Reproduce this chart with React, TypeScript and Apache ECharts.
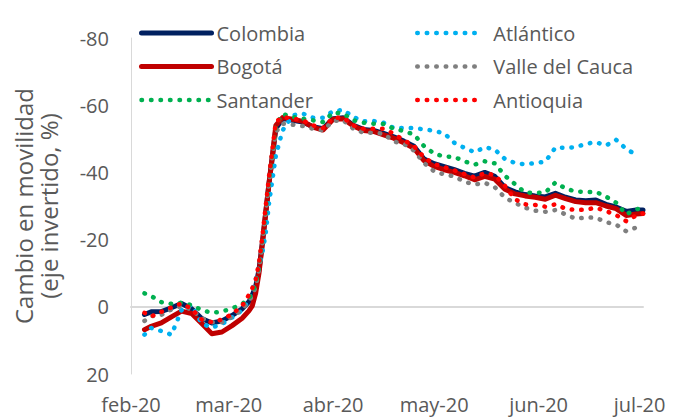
import React, { useEffect, useRef } from "react";
import * as echarts from "echarts";

// day offsets counted from 15-Feb-2020
const days = [4, 6, 9, 12, 15, 18, 21, 24, 27, 30, 33, 35, 36, 37, 38, 39, 40, 41, 42, 43, 45, 48, 51, 54, 57, 60, 63, 66, 69, 72, 75, 78, 81, 84, 87, 90, 93, 96, 99, 102, 105, 108, 111, 114, 117, 120, 123, 126, 129, 132, 135, 138, 141, 144, 147, 150, 152];

const colombia = [2.3, 1.5, 1.4, 0.3, -1.0, 0.6, 3.5, 4.8, 4.2, 2.6, 0.6, -1.5, -3.5, -6, -11, -19, -28, -37, -45, -53, -56.0, -55.5, -55.0, -53.6, -53.0, -56.0, -56.3, -54.0, -52.8, -52.5, -51.6, -50.6, -49.3, -47.8, -44.0, -42.6, -41.7, -40.8, -39.7, -38.9, -40.0, -38.8, -35.5, -34.2, -33.4, -33.0, -32.7, -33.8, -32.6, -31.8, -31.6, -31.8, -30.5, -29.7, -28.4, -28.8, -28.8];
const bogota = [6.8, 5.8, 4.8, 3.0, 1.3, 2.0, 5.0, 8.0, 7.5, 5.6, 3.4, 1.2, -0.3, -4, -10, -19, -28, -37, -45, -54, -56.3, -55.8, -55.2, -53.5, -52.6, -55.8, -56.0, -53.8, -52.5, -52.2, -51.2, -50.2, -48.8, -47.2, -43.5, -41.8, -40.8, -40.0, -39.0, -37.8, -38.8, -38.0, -35.0, -33.6, -33.0, -32.6, -32.0, -33.2, -32.2, -31.3, -31.0, -31.0, -30.0, -29.2, -27.2, -27.6, -27.8];
const santander = [-4.0, -3.2, -1.4, -0.9, -1.2, -0.5, 1.0, 1.8, 1.4, 0.5, -0.8, -2.6, -4.0, -7, -12, -20, -29, -38, -46, -54, -57.4, -56.5, -56.0, -55.5, -55.0, -57.8, -57.5, -55.5, -54.8, -54.5, -54.4, -53.0, -52.3, -51.3, -47.8, -45.6, -44.7, -44.6, -43.3, -42.3, -43.3, -42.7, -39.0, -36.5, -34.0, -33.9, -34.0, -37.0, -35.2, -34.3, -34.2, -34.2, -32.8, -31.0, -27.5, -29.0, -29.5];
const atlantico = [8.3, 6.3, 7.2, 8.3, 1.0, -0.6, 5.0, 6.2, 5.1, 3.2, 1.0, -2.0, -5.0, -8, -12, -16, -22, -31, -38, -45, -52.5, -57.0, -57.5, -56.3, -56.3, -58.2, -58.6, -56.5, -55.2, -55.3, -54.8, -53.2, -53.2, -53.2, -52.8, -52.4, -51.6, -48.8, -47.3, -46.0, -47.5, -46.8, -44.0, -42.8, -42.4, -42.8, -43.2, -47.4, -47.3, -47.5, -48.5, -49.0, -48.0, -49.7, -47.0, -45.2, null];
const valle = [4.2, 2.8, 2.4, 0.8, -0.3, 0.8, 3.4, 4.6, 4.6, 3.0, 0.8, -1.8, -3.2, -6, -11, -19, -28, -37, -45, -52, -54.5, -54.2, -53.8, -53.0, -52.5, -55.3, -55.5, -53.0, -51.8, -51.8, -51.5, -49.2, -48.5, -46.5, -42.8, -40.3, -39.4, -38.8, -37.2, -36.4, -36.9, -35.6, -32.5, -30.9, -29.5, -28.6, -28.3, -28.8, -27.5, -26.2, -26.6, -26.5, -25.2, -24.5, -22.5, -23.6, -24.3];
const antioquia = [1.8, 2.9, 1.5, 0.2, -1.0, 0.6, 3.8, 4.6, 3.8, 2.2, -0.3, -3.5, -5.5, -8, -13, -21, -30, -39, -47, -55, -56.5, -56.0, -55.5, -54.0, -53.2, -56.2, -56.3, -54.0, -53.0, -53.0, -53.0, -51.5, -49.6, -47.8, -44.5, -42.5, -41.6, -40.6, -39.5, -38.5, -39.8, -39.2, -36.0, -32.0, -30.5, -30.3, -29.8, -30.5, -29.2, -28.8, -28.9, -29.5, -28.5, -27.3, -25.5, -27.2, -27.7];

// x-axis labels (one per month, at the 15th)
const monthDays = [0, 29, 60, 90, 121, 151];
const monthLabels = ["feb-20", "mar-20", "abr-20", "may-20", "jun-20", "jul-20"];

const FONT = "Open Sans";
const TEXT = "#595959";
const SOLID_W = 5;
const DOT_W = 4.5;
const DOT_DASH = [0.5, 9];

const pairs = (vals: (number | null)[]) => days.map((d, i) => [d, vals[i]]);

const solid = (name: string, color: string, vals: (number | null)[]) => ({
  name,
  type: "line",
  data: pairs(vals),
  symbol: "none",
  showSymbol: false,
  lineStyle: { color, width: SOLID_W, cap: "round", join: "round" },
  itemStyle: { color },
});

const dotted = (name: string, color: string, vals: (number | null)[]) => ({
  name,
  type: "line",
  data: pairs(vals),
  symbol: "none",
  showSymbol: false,
  lineStyle: { color, width: DOT_W, type: DOT_DASH, cap: "round", join: "round" },
  itemStyle: { color },
});

const solidItem = (name: string) => ({ name, lineStyle: { width: SOLID_W, cap: "round" } });
const dotItem = (name: string) => ({ name, lineStyle: { width: DOT_W, type: DOT_DASH, cap: "round" } });

export default function App() {
  const ref = useRef<HTMLDivElement>(null);
  useEffect(() => {
    if (!ref.current) return;
    const chart = echarts.init(ref.current, null, { renderer: "svg" });
    chart.setOption({
      animation: false,
      backgroundColor: "#ffffff",
      textStyle: { fontFamily: FONT },
      grid: { left: 131, top: 38, width: 512, height: 336, containLabel: false, outerBoundsMode: "none" },
      legend: [
        {
          data: [solidItem("Colombia"), solidItem("Bogotá"), dotItem("Santander")],
          orient: "vertical",
          left: 139,
          top: 23,
          padding: 0,
          itemWidth: 70,
          itemHeight: 20,
          itemGap: 13.5,
          itemStyle: { opacity: 0 },
          textStyle: { fontFamily: FONT, fontSize: 20, color: TEXT },
        },
        {
          data: [dotItem("Atlántico"), dotItem("Valle del Cauca"), dotItem("Antioquia")],
          orient: "vertical",
          left: 415,
          top: 23,
          padding: 0,
          itemWidth: 62,
          itemHeight: 20,
          itemGap: 13.5,
          itemStyle: { opacity: 0 },
          textStyle: { fontFamily: FONT, fontSize: 20, color: TEXT, padding: [0, 0, 0, 9] },
        },
      ],
      xAxis: [
        {
          type: "value",
          min: 0,
          max: 152,
          position: "bottom",
          axisLine: { show: false, onZero: false },
          axisTick: { show: false },
          splitLine: { show: false },
          axisLabel: {
            customValues: monthDays,
            formatter: (v: number) => monthLabels[monthDays.indexOf(Math.round(v))] ?? "",
            fontFamily: FONT,
            fontSize: 20,
            color: TEXT,
            margin: 20,
          },
        },
        {
          type: "value",
          min: 0,
          max: 152,
          position: "top",
          axisLine: { show: true, onZero: true, lineStyle: { color: "#d9d9d9", width: 2 } },
          axisTick: { show: false },
          axisLabel: { show: false },
          splitLine: { show: false },
        },
      ],
      yAxis: {
        type: "value",
        inverse: true,
        min: -80,
        max: 20,
        interval: 20,
        axisLine: { show: true, lineStyle: { color: "#d9d9d9", width: 1 } },
        axisTick: { show: false },
        splitLine: { show: false },
        axisLabel: { fontFamily: FONT, fontSize: 20, color: TEXT, margin: 22 },
        name: "Cambio en movilidad\n(eje invertido, %)",
        nameLocation: "middle",
        nameRotate: 90,
        nameGap: 70,
        nameMoveOverlap: false,
        nameTextStyle: { fontFamily: FONT, fontSize: 24, color: TEXT, lineHeight: 25, align: "center" },
      },
      series: [
        solid("Colombia", "#002060", colombia),
        solid("Bogotá", "#C00000", bogota),
        dotted("Atlántico", "#00B0F0", atlantico),
        dotted("Valle del Cauca", "#7F7F7F", valle),
        dotted("Santander", "#00B050", santander),
        dotted("Antioquia", "#FF0000", antioquia),
      ],
    });
    return () => chart.dispose();
  }, []);
  return (
    <div
      ref={ref}
      style={{ position: "fixed", left: 0, top: 0, width: 682, height: 420, background: "#fff" }}
    />
  );
}
